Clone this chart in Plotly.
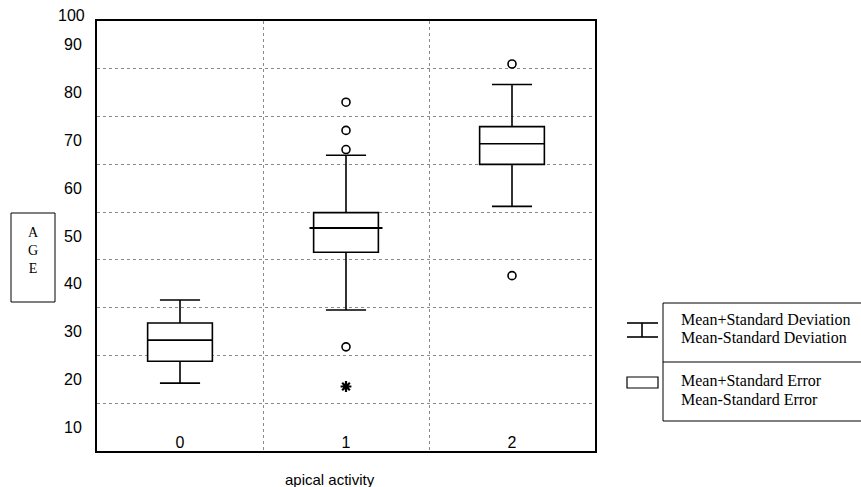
import plotly.graph_objects as go

# ---------------- data ----------------
categories = [0, 1, 2]
cat_labels = ["0", "1", "2"]
sd_upper = [36.6, 66.9, 81.7]   # Mean + Standard Deviation
se_upper = [31.8, 54.9, 72.9]   # Mean + Standard Error
centre = [28.2, 51.7, 69.3]     # Mean
se_lower = [23.8, 46.6, 65.0]   # Mean - Standard Error
sd_lower = [19.2, 34.5, 56.2]   # Mean - Standard Deviation
outlier_x = [1, 1, 1, 1, 2, 2]
outlier_y = [78.0, 72.1, 68.1, 26.8, 86.0, 41.7]
extreme_x = [1]
extreme_y = [18.5]
ytick_vals = [10, 20, 30, 40, 50, 60, 70, 80, 90]
ytick_text = ["10", "20", "30", "40", "50", "60", "70", "80", "90"]
ygrid_vals = [15, 25, 35, 45, 55, 65, 75, 85]
xgrid_vals = [0.5, 1.5]

# ---------------- geometry helpers (pixel -> paper) ----------------
W, H = 861, 487
L, R, T, B = 97, 266, 21, 36
PW, PH = W - L - R, H - T - B


def px(x):
    return (x - L) / PW


def py(y):
    return (H - B - y) / PH


SANS = "Liberation Sans, Arial, sans-serif"
SERIF = "Liberation Serif, Times New Roman, serif"

fig = go.Figure()

fig.add_trace(go.Box(
    x=categories, q1=se_lower, median=centre, q3=se_upper,
    lowerfence=sd_lower, upperfence=sd_upper,
    width=0.39, whiskerwidth=0.62, boxpoints=False,
    line=dict(color="black", width=1.6), fillcolor="white",
    showlegend=False, hoverinfo="skip",
))

# wider centre line of group 1
fig.add_trace(go.Scatter(
    x=[categories[1] - 0.22, categories[1] + 0.22],
    y=[centre[1], centre[1]], mode="lines",
    line=dict(color="black", width=2), showlegend=False, hoverinfo="skip",
))

fig.add_trace(go.Scatter(
    x=outlier_x, y=outlier_y, mode="markers",
    marker=dict(symbol="circle-open", size=8, color="black", line=dict(width=1.6)),
    showlegend=False, hoverinfo="skip",
))
fig.add_trace(go.Scatter(
    x=extreme_x, y=extreme_y, mode="markers",
    marker=dict(symbol="asterisk-open", size=9, color="black", line=dict(width=2.2)),
    showlegend=False, hoverinfo="skip",
))

fig.update_layout(
    width=W, height=H,
    margin=dict(l=L, r=R, t=T, b=B, pad=0),
    paper_bgcolor="white", plot_bgcolor="white",
    font=dict(family=SANS, color="black"),
    xaxis=dict(
        range=[-0.5, 2.5], tickvals=categories, ticktext=cat_labels,
        ticklabelposition="inside", ticks="", showgrid=False, zeroline=False,
        tickfont=dict(family=SANS, size=16, color="black"),
        showline=True, linecolor="black", linewidth=2, mirror=True,
        minor=dict(tickvals=xgrid_vals, showgrid=True, griddash="dot",
                   gridcolor="#8a8a8a", gridwidth=1),
    ),
    yaxis=dict(
        range=[5, 95], tickvals=ytick_vals, ticktext=ytick_text,
        ticks="", showgrid=False, zeroline=False, ticklabelstandoff=10,
        tickfont=dict(family=SANS, size=16, color="black"),
        showline=True, linecolor="black", linewidth=2, mirror=True,
        minor=dict(tickvals=ygrid_vals, showgrid=True, griddash="dot",
                   gridcolor="#8a8a8a", gridwidth=1),
    ),
)

annotations = [
    dict(text="100", x=px(87), y=py(15.5), xanchor="right", yanchor="middle",
         font=dict(family=SANS, size=16)),
    dict(text="apical activity", x=px(330), y=py(479), xanchor="center", yanchor="middle",
         font=dict(family=SANS, size=15)),
    dict(text="A<br>G<br>E", x=px(33), y=py(250), xanchor="center", yanchor="middle",
         font=dict(family=SERIF, size=14)),
    dict(text="Mean+Standard Deviation", x=px(679), y=py(319.5), xanchor="left", yanchor="middle",
         font=dict(family=SERIF, size=16)),
    dict(text="Mean-Standard Deviation", x=px(679), y=py(337.5), xanchor="left", yanchor="middle",
         font=dict(family=SERIF, size=16)),
    dict(text="Mean+Standard Error", x=px(679), y=py(381), xanchor="left", yanchor="middle",
         font=dict(family=SERIF, size=16)),
    dict(text="Mean-Standard Error", x=px(679), y=py(399), xanchor="left", yanchor="middle",
         font=dict(family=SERIF, size=16)),
]
for a in annotations:
    a.update(xref="paper", yref="paper", showarrow=False)
fig.update_layout(annotations=annotations)

line_k = dict(color="black", width=1)
shapes = [
    # AGE label box
    dict(type="rect", x0=px(11), x1=px(55), y0=py(302), y1=py(213), line=line_k),
    # legend frame
    dict(type="line", x0=px(663), x1=px(861), y0=py(303), y1=py(303), line=line_k),
    dict(type="line", x0=px(663), x1=px(861), y0=py(362), y1=py(362), line=line_k),
    dict(type="line", x0=px(663), x1=px(861), y0=py(421), y1=py(421), line=line_k),
    dict(type="line", x0=px(663), x1=px(663), y0=py(303), y1=py(421), line=line_k),
    # legend symbol: whisker
    dict(type="line", x0=px(627), x1=px(658), y0=py(323), y1=py(323), line=dict(color="black", width=1.6)),
    dict(type="line", x0=px(627), x1=px(658), y0=py(337), y1=py(337), line=dict(color="black", width=1.6)),
    dict(type="line", x0=px(642), x1=px(642), y0=py(323), y1=py(337), line=dict(color="black", width=1.6)),
    # legend symbol: box
    dict(type="rect", x0=px(627), x1=px(658), y0=py(388), y1=py(377), line=dict(color="black", width=1.2)),
]
for s in shapes:
    s.update(xref="paper", yref="paper")
fig.update_layout(shapes=shapes)

fig.write_html("out.html")
